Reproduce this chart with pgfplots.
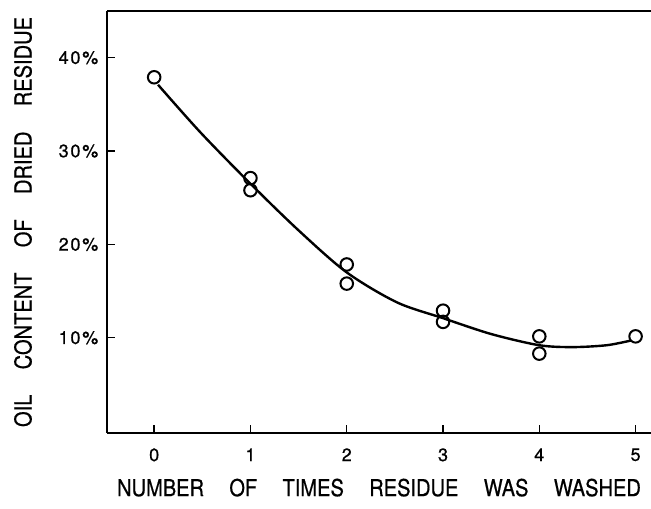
\documentclass[border=0pt]{standalone}
\usepackage{fontspec}
\setmainfont{TeX Gyre Heros}
\newfontfamily\lblfont[FakeStretch=0.86,FakeBold=0.6]{TeX Gyre Heros}
\newfontfamily\tickfont[LetterSpace=10,FakeBold=0.8]{TeX Gyre Heros}
\usepackage{pgfplots}
\pgfplotsset{compat=1.18}
\begin{document}
\begin{tikzpicture}
\begin{axis}[
  scale only axis,
  width=408pt, height=316.5pt,
  xmin=-0.49, xmax=5.16,
  ymin=-0.2, ymax=45,
  axis lines=left,
  axis line style={-, line width=1.4pt},
  tick align=inside,
  major tick length=6pt,
  tick style={line width=1.1pt, black},
  xtick={0,1,2,3,4,5},
  ytick={10,20,30,40},
  yticklabels={10\%,20\%,30\%,40\%},
  /pgf/number format/assume math mode=true,
  ticklabel style={font=\tickfont\fontsize{13.5}{15}\selectfont},
  yticklabel style={xshift=-3pt},
  xticklabel style={yshift=-8pt},
  xlabel={NUMBER\hspace{19pt}OF\hspace{19pt}TIMES\hspace{19pt}RESIDUE\hspace{19pt}WAS\hspace{19pt}WASHED},
  ylabel={OIL\hspace{19pt}CONTENT\hspace{19pt}OF\hspace{19pt}DRIED\hspace{19pt}RESIDUE},
  label style={font=\lblfont\fontsize{17.5}{20}\selectfont},
  xlabel style={at={(axis description cs:0.5,-0.1295)}, anchor=center},
  ylabel style={at={(axis description cs:-0.1544,0.5)}, anchor=center},
  clip=false,
]
\draw[line width=1.4pt] (rel axis cs:0,1) -- (rel axis cs:1,1);
\addplot[black, line width=1.8pt, smooth, tension=0.5] coordinates {
  (0.04,37.1) (0.48,32.0) (1,26.5) (1.5,21.5) (2,17.0) (2.52,13.8)
  (3,12.1) (3.5,10.4) (4,9.2) (4.35,9.0) (4.7,9.2) (4.95,9.7)
};
\addplot[only marks, mark=o, mark size=4.7pt, black, line width=1.5pt,
  mark options={fill=white}] coordinates {
  (0,37.9) (1,27.1) (1,25.8) (2,17.85) (2,15.8) (3,12.9) (3,11.7)
  (4,10.15) (4,8.3) (5,10.15)
};
\end{axis}
\pgfresetboundingbox
\path[use as bounding box] (-80.25pt,-57pt) rectangle (408pt,324.75pt);
\end{tikzpicture}
\end{document}
